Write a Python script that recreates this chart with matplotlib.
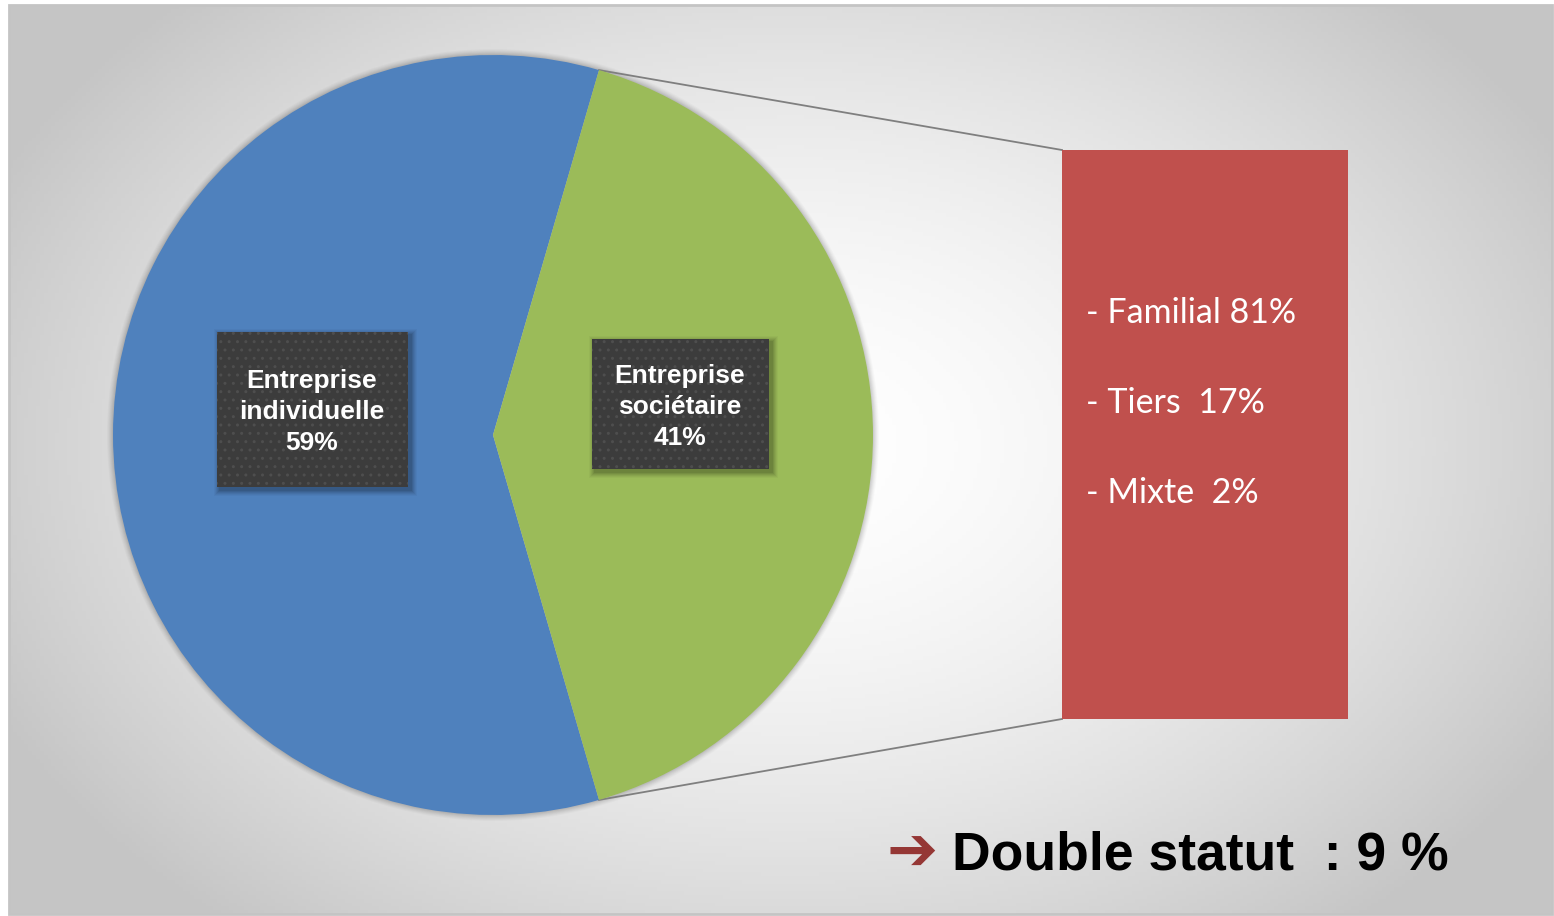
import numpy as np
import matplotlib
matplotlib.use("Agg")
import matplotlib.pyplot as plt
from matplotlib.patches import Rectangle

# ---- data ----
categories = ["Entreprise\nindividuelle", "Entreprise\nsociétaire"]
shares = [59, 41]
colors = ["#4f81bd", "#9bbb59"]
detail_labels = ["- Familial 81%", "- Tiers  17%", "- Mixte  2%"]
double_statut = "Double statut  : 9 %"

W, H = 1554, 916
fig = plt.figure(figsize=(W / 100, H / 100), dpi=100)
ax = fig.add_axes([0, 0, 1, 1])

# background radial gradient inside a frame
x0, x1, y0, y1 = 9, 1552, 2, 911
gx = np.linspace(x0, x1, 400)
gy = np.linspace(y0, y1, 240)
XX, YY = np.meshgrid(gx, gy)
cx, cy = 790, 470
d = np.sqrt(((XX - cx) / 880) ** 2 + ((YY - cy) / 620) ** 2)
d = np.clip(d, 0, 1)
val = 1.0 - 0.225 * d ** 1.6
img = np.dstack([val, val, val])
ax.imshow(img, extent=(x0, x1, y0, y1), origin="lower", zorder=0, aspect="auto")
ax.add_patch(Rectangle((x0, y0), x1 - x0, y1 - y0, fill=False, ec="#c4c4c4", lw=2, zorder=1))

# pie
center = (493, 481)
radius = 380
# soft shadow behind the pie
for k, a in zip(range(6, 0, -1), [0.02, 0.025, 0.03, 0.035, 0.04, 0.05]):
    ax.add_patch(plt.Circle((center[0], center[1]), radius + k, color="black", alpha=a, lw=0, zorder=2))
wedges, _ = ax.pie(shares, colors=colors, startangle=73.8, counterclock=True,
                   center=center, radius=radius, frame=True,
                   wedgeprops=dict(linewidth=0))
for w in wedges:
    w.set_zorder(3)
ax.set_xlim(0, W)
ax.set_ylim(0, H)
ax.axis("off")

# connector lines from green wedge edges to the detail bar
ang_top = np.deg2rad(73.8)
ang_bot = np.deg2rad(-73.8)
bar_x, bar_y0, bar_y1 = 1062, 197, 766
ptop = (center[0] + radius * np.cos(ang_top), center[1] + radius * np.sin(ang_top))
pbot = (center[0] + radius * np.cos(ang_bot), center[1] + radius * np.sin(ang_bot))
ax.plot([ptop[0], bar_x], [ptop[1], bar_y1], color="#7f7f7f", lw=1.3, zorder=2.5)
ax.plot([pbot[0], bar_x], [pbot[1], bar_y0], color="#7f7f7f", lw=1.3, zorder=2.5)

# detail bar
ax.add_patch(Rectangle((bar_x, bar_y0), 286, bar_y1 - bar_y0, fc="#c0504d", ec="none", zorder=3))
for i, t in enumerate(detail_labels):
    ax.text(1086, 603 - i * 90, t, color="white", fontsize=24.5, family="Lato",
            ha="left", va="center", zorder=4)

# data label boxes
boxes = [(217, 429, 191, 155, (312, 504)), (592, 447, 177, 130, (680, 509))]
for (bx, by, bw, bh, (tx, ty)), cat, s in zip(boxes, categories, shares):
    for k, a in zip(range(6, 0, -1), [0.03, 0.04, 0.05, 0.06, 0.07, 0.08]):
        ax.add_patch(Rectangle((bx - k + 3, by - k - 3), bw + 2 * k, bh + 2 * k,
                               fc="black", alpha=a, ec="none", zorder=4))
    ax.add_patch(Rectangle((bx, by), bw, bh, fc="#3c3c3c", ec="none", zorder=5))
    ax.add_patch(Rectangle((bx, by), bw, bh, fill=False, ec="#4e4e4e", lw=0, hatch="..", zorder=5))
    ax.text(tx, ty, f"{cat}\n{s}%", color="white", fontsize=19, fontweight="bold",
            family="Liberation Sans", ha="center", va="center", linespacing=1.36, zorder=6)

# bottom note
ax.text(886, 62, "➔", color="#953735", fontsize=44, fontweight="bold", family="DejaVu Sans",
        ha="left", va="center", zorder=6)
ax.text(952, 61, double_statut, color="black", fontsize=38.5, fontweight="bold",
        family="Liberation Sans", ha="left", va="center", zorder=6)

fig.savefig("out.png", dpi=100)
